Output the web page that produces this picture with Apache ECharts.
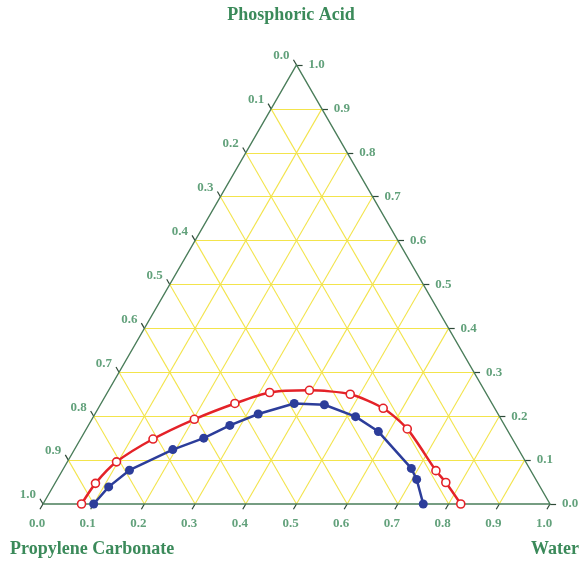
<!DOCTYPE html>
<html>
<head>
<meta charset="utf-8">
<script src="https://cdn.jsdelivr.net/npm/echarts@6/dist/echarts.min.js"></script>
<style>html,body{margin:0;padding:0;background:#fff;}#c{width:582px;height:563px;}</style>
</head>
<body>
<div id="c"></div>
<script>
// Ternary axes: Water (bottom), Phosphoric Acid (right), Propylene Carbonate (left)
const ticks = [0.0, 0.1, 0.2, 0.3, 0.4, 0.5, 0.6, 0.7, 0.8, 0.9, 1.0];
const tickLabels = ['0.0','0.1','0.2','0.3','0.4','0.5','0.6','0.7','0.8','0.9','1.0'];

// Red open-circle series (mass fractions)
const redWater = [0.076, 0.080, 0.097, 0.143, 0.202, 0.264, 0.320, 0.396, 0.481, 0.562, 0.633, 0.737, 0.770, 0.824];
const redAcid  = [0.000, 0.047, 0.096, 0.148, 0.193, 0.229, 0.254, 0.259, 0.250, 0.218, 0.171, 0.076, 0.049, 0.000];

// Blue filled-circle series
const blueWater = [0.100, 0.110, 0.132, 0.194, 0.242, 0.279, 0.322, 0.381, 0.442, 0.517, 0.579, 0.686, 0.709, 0.750];
const blueAcid  = [0.000, 0.039, 0.077, 0.124, 0.150, 0.179, 0.205, 0.229, 0.226, 0.199, 0.165, 0.081, 0.056, 0.000];

const H = Math.sqrt(3) / 2;
function toXY(w, a) { return [w + a / 2, a * H]; }

const gridSegs = [];
ticks.forEach(t => {
  if (t <= 0 || t >= 1) return;
  gridSegs.push({coords: [toXY(0, t), toXY(1 - t, t)]});       // const acid
  gridSegs.push({coords: [toXY(t, 0), toXY(t, 1 - t)]});       // const water
  gridSegs.push({coords: [toXY(1 - t, 0), toXY(0, 1 - t)]});   // const PC
});

const L = 0.012;
const tickSegs = [];
const bottomPts = [], leftPts = [], rightPts = [];
ticks.forEach((t, i) => {
  const b = toXY(t, 0);
  tickSegs.push({coords: [b, [b[0] - L * 0.5, b[1] - L * H]]});
  bottomPts.push({value: b, name: tickLabels[i]});
  const l = toXY(0, 1 - t);
  tickSegs.push({coords: [l, [l[0] - L * 0.5, l[1] + L * H]]});
  leftPts.push({value: l, name: tickLabels[i]});
  const r = toXY(1 - t, t);
  tickSegs.push({coords: [r, [r[0] + L, r[1]]]});
  rightPts.push({value: r, name: tickLabels[i]});
});

const edge = [{coords: [toXY(0, 0), toXY(1, 0), toXY(0, 1), toXY(0, 0)]}];

const redData = redWater.map((w, i) => toXY(w, redAcid[i]));
const blueData = blueWater.map((w, i) => toXY(w, blueAcid[i]));

const green = '#3b8a5a';
const font = 'Liberation Serif';
function labelSeries(data, label) {
  return {
    type: 'scatter', data: data, symbolSize: 1, clip: false, silent: true,
    itemStyle: {color: 'rgba(0,0,0,0)'},
    label: Object.assign({show: true, formatter: p => p.name, color: green,
      fontFamily: font, fontWeight: 'bold', fontSize: 13, position: 'inside'}, label),
    z: 5
  };
}

const chart = echarts.init(document.getElementById('c'), null, {renderer: 'canvas'});
chart.setOption({
  animation: false,
  backgroundColor: '#ffffff',
  grid: {left: 43, top: 65, width: 507, height: 439},
  xAxis: {type: 'value', min: 0, max: 1, show: false},
  yAxis: {type: 'value', min: 0, max: H, show: false},
  graphic: [
    {type: 'text', left: 'center', top: 6, style: {text: 'Phosphoric Acid', fill: green,
      font: 'bold 18px "Liberation Serif"'}},
    {type: 'text', left: 10, top: 540, style: {text: 'Propylene Carbonate', fill: green,
      font: 'bold 18px "Liberation Serif"'}},
    {type: 'text', right: 3, top: 540, style: {text: 'Water', fill: green,
      font: 'bold 18px "Liberation Serif"'}}
  ],
  series: [
    {type: 'lines', coordinateSystem: 'cartesian2d', data: gridSegs, clip: false, silent: true,
      lineStyle: {color: '#f3e44c', width: 1.1, opacity: 1}, z: 1},
    {type: 'lines', coordinateSystem: 'cartesian2d', data: tickSegs, clip: false, silent: true,
      lineStyle: {color: '#2f4a38', width: 1.2, opacity: 1}, z: 2},
    {type: 'lines', coordinateSystem: 'cartesian2d', polyline: true, data: edge, clip: false, silent: true,
      lineStyle: {color: '#4a7d5a', width: 1.4, opacity: 1}, z: 3},
    labelSeries(bottomPts, {offset: [-6, 20]}),
    labelSeries(leftPts, {align: 'right', offset: [-7, -9]}),
    labelSeries(rightPts, {align: 'left', offset: [12, 0]}),
    {type: 'line', data: redData, smooth: 0.25, clip: false,
      symbol: 'circle', symbolSize: 8,
      itemStyle: {color: '#ffffff', borderColor: '#e42228', borderWidth: 1.6},
      lineStyle: {color: '#e42228', width: 2.5}, z: 10},
    {type: 'line', data: blueData, smooth: false, clip: false,
      symbol: 'circle', symbolSize: 9,
      itemStyle: {color: '#2c3d9a'},
      lineStyle: {color: '#2c3d9a', width: 2.5}, z: 11}
  ]
});
</script>
</body>
</html>
